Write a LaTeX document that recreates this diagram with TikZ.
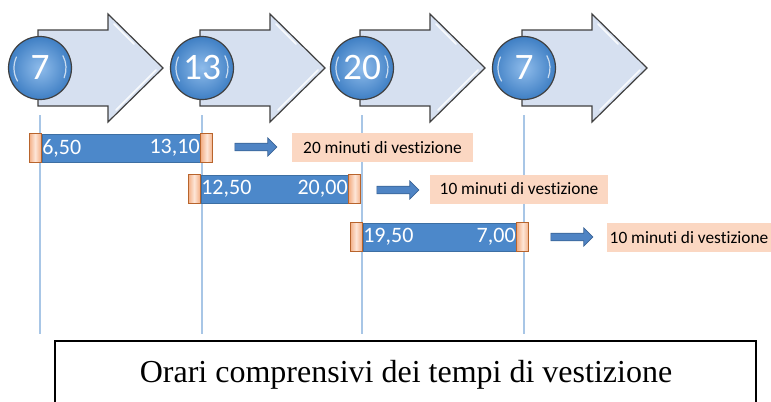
\documentclass[tikz,border=0pt]{standalone}
\usepackage{fontspec}
\setmainfont{Carlito}[Ligatures=NoCommon]
\newfontfamily\titlefont{Liberation Serif}
\usetikzlibrary{shapes.arrows}
\definecolor{arrowfill}{HTML}{D6E0F0}
\definecolor{arrowline}{HTML}{404040}
\definecolor{ballin}{HTML}{8FBCEB}
\definecolor{ballout}{HTML}{3F7FC4}
\definecolor{barblue}{HTML}{4C88CA}
\definecolor{barline}{HTML}{3D6FA3}
\definecolor{capline}{HTML}{B8642C}
\definecolor{capout}{HTML}{F3AE84}
\definecolor{capin}{HTML}{FDE6D8}
\definecolor{labelfill}{HTML}{FBD7C2}
\definecolor{vline}{HTML}{A8C6E6}
\definecolor{smallarrow}{HTML}{4F84C4}
\definecolor{smallline}{HTML}{3A6496}
\tikzset{
  bigarrow/.style={fill=arrowfill, draw=arrowline, line width=0.9pt, line join=miter},
  gloss/.style={draw=white, line width=1.1pt, opacity=0.85, line cap=round},
  ballgloss/.style={draw=white, line width=0.9pt, opacity=0.7, line cap=round},
  ball/.style={circle, draw=arrowline, line width=0.9pt, shading=radial, inner color=ballin, outer color=ballout,
    minimum size=47.25pt, inner sep=0pt, text=white, font=\fontsize{28}{28}\selectfont},
  timeline/.style={draw=vline, line width=0.8pt},
  timebar/.style={rectangle, fill=barblue, draw=barline, line width=0.5pt, minimum height=21pt, inner sep=0pt},
  capbox/.style={rectangle, draw=capline, line width=0.8pt, left color=capout, right color=capout, middle color=capin,
    minimum width=9pt, minimum height=21.75pt, inner sep=0pt},
  bartext/.style={text=white, font=\fontsize{16.5}{16.5}\selectfont, inner sep=0.3pt},
  blockarrow/.style={single arrow, fill=smallarrow, draw=smallline, line width=0.5pt, minimum height=31.5pt,
    minimum width=12.75pt, inner sep=2.6pt, single arrow head extend=4pt},
  labelbox/.style={rectangle, fill=labelfill, minimum height=21.75pt, inner sep=0pt, font=\fontsize{13}{13}\selectfont},
  titlebox/.style={draw=black, line width=1.6pt},
}
\begin{document}
\begin{tikzpicture}[x=0.75pt, y=-0.75pt]
\useasboundingbox (0,0) rectangle (771,401);
% big arrows
\foreach \cx/\num/\n in {40/7/a, 202/13/b, 362/20/c, 524/7/d} {
  \draw[bigarrow] (\cx-2,30) -- (\cx+68,30) -- (\cx+68,14) -- (\cx+123,68) -- (\cx+68,122) -- (\cx+68,106) -- (\cx-2,106) -- cycle;
  \draw[gloss] (\cx+74,24) -- (\cx+94,44);
  \draw[gloss] (\cx+116,70) -- (\cx+76,110);
  \coordinate (top\n) at (\cx,115);
  \coordinate (bot\n) at (\cx,334);
  \draw[timeline] (top\n) -- (bot\n);
  \node[ball] (c\n) at (\cx,68) {\num};
  \draw[ballgloss] (c\n.center) ++(150:26) arc (150:205:26);
  \draw[ballgloss] (c\n.center) ++(-28:26) arc (-28:22:26);
}
% bar 1
\node[timebar, minimum width=118.5pt] (bar1) at (121,148) {};
\node[capbox, anchor=east] (cap1l) at (bar1.west) {};
\node[capbox, anchor=west] (cap1r) at (bar1.east) {};
\node[bartext, anchor=west] (t1l) at (bar1.west) {6,50};
\node[bartext, anchor=east] (t1r) at (bar1.east) {13,10};
\node[blockarrow] (ar1) at (254,147) {};
\node[labelbox, minimum width=135.75pt] (lab1) at (382.5,147.5) {20 minuti di vestizione};
% bar 2
\node[timebar, minimum width=110.25pt] (bar2) at (274.5,189) {};
\node[capbox, anchor=east] (cap2l) at (bar2.west) {};
\node[capbox, anchor=west] (cap2r) at (bar2.east) {};
\node[bartext, anchor=west] (t2l) at (bar2.west) {12,50};
\node[bartext, anchor=east] (t2r) at (bar2.east) {20,00};
\node[blockarrow] (ar2) at (396,190) {};
\node[labelbox, minimum width=133.5pt] (lab2) at (519,189) {10 minuti di vestizione};
% bar 3
\node[timebar, minimum width=114.75pt] (bar3) at (439.5,237) {};
\node[capbox, anchor=east] (cap3l) at (bar3.west) {};
\node[capbox, anchor=west] (cap3r) at (bar3.east) {};
\node[bartext, anchor=west] (t3l) at (bar3.west) {19,50};
\node[bartext, anchor=east] (t3r) at (bar3.east) {7,00};
\node[blockarrow] (ar3) at (570,237) {};
\node[labelbox, minimum width=123pt] (lab3) at (689,237.5) {10 minuti di vestizione};
% title box
\draw[titlebox] (55,402) -- (55,341) -- (756,341) -- (756,402);
\node[font=\titlefont\fontsize{24}{24}\selectfont, anchor=base] (title) at (406,382) {Orari comprensivi dei tempi di vestizione};
\end{tikzpicture}
\end{document}
